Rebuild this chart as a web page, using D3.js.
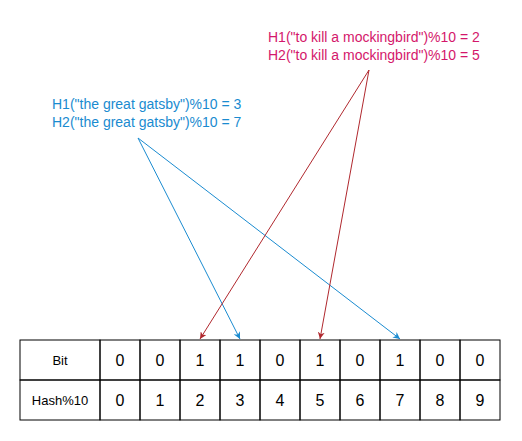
<!DOCTYPE html>
<html><head><meta charset="utf-8">
<script src="https://cdn.jsdelivr.net/npm/d3@7"></script>
<style>body{margin:0;background:#fff}</style>
</head><body>
<script>
// bloom filter picture data
var hashIdx = d3.range(10);
var bits = [0, 0, 1, 1, 0, 1, 0, 1, 0, 0];
var rowLabels = ['Bit', 'Hash%10'];
var books = [
  { name: 'the great gatsby', h1: 3, h2: 7, color: '#1a8bd0', arrow: '#1a8bd0' },
  { name: 'to kill a mockingbird', h1: 2, h2: 5, color: '#d4176b', arrow: '#b0282e' }
];

var svg = d3.select('body').append('svg')
    .attr('width', 522).attr('height', 441);

var x = d3.scaleBand().domain(hashIdx).range([100, 500]);
var y = d3.scaleBand().domain(rowLabels).range([340, 420]);

var defs = svg.append('defs');
books.forEach(function(b, i) {
  defs.append('marker').attr('id', 'm' + i)
    .attr('viewBox', '0 0 10 10').attr('refX', 10).attr('refY', 5)
    .attr('markerWidth', 7).attr('markerHeight', 7).attr('orient', 'auto')
    .attr('markerUnits', 'userSpaceOnUse')
    .append('path').attr('d', 'M0,0 L10,5 L0,10 L3,5 Z').attr('fill', b.arrow);
});

// text labels + arrows
var origins = [[138, 138], [369, 70]];
var textPos = [[52, 109], [268, 42]];
books.forEach(function(b, i) {
  [b.h1, b.h2].forEach(function(h) {
    svg.append('line')
      .attr('x1', origins[i][0]).attr('y1', origins[i][1])
      .attr('x2', x(h) + x.bandwidth() / 2).attr('y2', 339)
      .attr('stroke', b.arrow).attr('stroke-width', 1)
      .attr('marker-end', 'url(#m' + i + ')');
  });
  var t = svg.append('text').attr('x', textPos[i][0]).attr('y', textPos[i][1])
    .attr('fill', b.color).attr('font-family', 'Liberation Sans, Arial, sans-serif')
    .attr('font-size', 14);
  t.append('tspan').attr('x', textPos[i][0]).text('H1("' + b.name + '")%10 = ' + b.h1);
  t.append('tspan').attr('x', textPos[i][0]).attr('dy', 18).text('H2("' + b.name + '")%10 = ' + b.h2);
});

// table
var rows = [bits, hashIdx];
var g = svg.append('g').attr('font-family', 'Liberation Sans, Arial, sans-serif');
rowLabels.forEach(function(r, ri) {
  g.append('rect').attr('x', 20).attr('y', y(r)).attr('width', 80).attr('height', y.bandwidth())
    .attr('fill', 'none').attr('stroke', '#000');
  g.append('text').attr('x', 60).attr('y', y(r) + y.bandwidth() / 2).attr('dy', '0.35em')
    .attr('text-anchor', 'middle').attr('font-size', 13).text(r);
  rows[ri].forEach(function(v, i) {
    g.append('rect').attr('x', x(i)).attr('y', y(r)).attr('width', x.bandwidth()).attr('height', y.bandwidth())
      .attr('fill', 'none').attr('stroke', '#000');
    g.append('text').attr('x', x(i) + x.bandwidth() / 2).attr('y', y(r) + y.bandwidth() / 2).attr('dy', '0.35em')
      .attr('text-anchor', 'middle').attr('font-size', 16).text(v);
  });
});
</script>
</body></html>
